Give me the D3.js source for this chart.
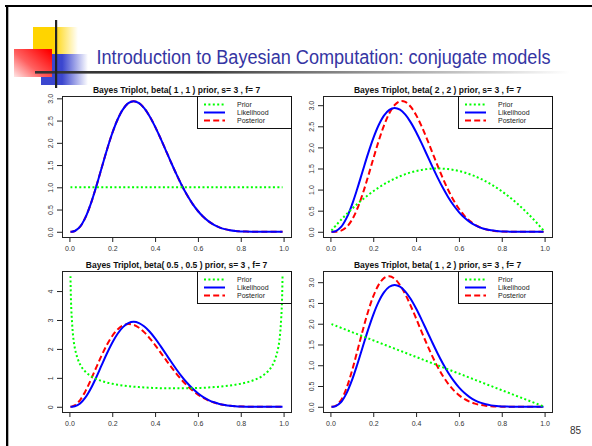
<!DOCTYPE html>
<html>
<head>
<meta charset="utf-8">
<script src="https://cdn.jsdelivr.net/npm/d3@7"></script>
<style>
  body { margin: 0; background: #fff; }
  svg { display: block; }
  text { font-family: "Liberation Sans", Arial, sans-serif; }
</style>
</head>
<body>
<script>
// grid of p values the densities were read at
const pGrid = [0.005, 0.01, 0.025, 0.05, 0.075, 0.1, 0.125, 0.15, 0.175, 0.2,
  0.225, 0.25, 0.275, 0.3, 0.325, 0.35, 0.375, 0.4, 0.425, 0.45, 0.475, 0.5,
  0.525, 0.55, 0.575, 0.6, 0.625, 0.65, 0.675, 0.7, 0.725, 0.75, 0.775, 0.8,
  0.825, 0.85, 0.875, 0.9, 0.925, 0.95, 0.975, 0.99, 0.995];

// likelihood, s = 3, f = 7 (same in every panel)
const likelihood = [0.0002, 0.0012, 0.0173, 0.1152, 0.3227, 0.6314, 1.0124, 1.4282,
  1.8403, 2.2146, 2.5249, 2.7531, 2.8908, 2.9351, 2.8932, 2.7744, 2.5932, 2.3649,
  2.1059, 1.8313, 1.5552, 1.2891, 1.0421, 0.8206, 0.6285, 0.4671, 0.3361, 0.2332,
  0.1555, 0.0990, 0.0598, 0.0340, 0.0179, 0.0087, 0.0037, 0.0014, 0.0004, 0.0001,
  0, 0, 0, 0, 0];

const prior11 = [1, 1, 1, 1, 1, 1, 1, 1, 1, 1, 1, 1, 1, 1, 1, 1, 1, 1, 1, 1, 1, 1,
  1, 1, 1, 1, 1, 1, 1, 1, 1, 1, 1, 1, 1, 1, 1, 1, 1, 1, 1, 1, 1];
const post11 = [0.0002, 0.0012, 0.0173, 0.1152, 0.3227, 0.6314, 1.0124, 1.4282,
  1.8403, 2.2146, 2.5249, 2.7531, 2.8908, 2.9351, 2.8932, 2.7744, 2.5932, 2.3649,
  2.1059, 1.8313, 1.5552, 1.2891, 1.0421, 0.8206, 0.6285, 0.4671, 0.3361, 0.2332,
  0.1555, 0.0990, 0.0598, 0.0340, 0.0179, 0.0087, 0.0037, 0.0014, 0.0004, 0.0001,
  0, 0, 0, 0, 0];

const prior22 = [0.0299, 0.0594, 0.1463, 0.285, 0.4163, 0.54, 0.6563, 0.765, 0.8663,
  0.96, 1.0463, 1.125, 1.1963, 1.26, 1.3163, 1.365, 1.4063, 1.44, 1.4663, 1.485,
  1.4963, 1.5, 1.4963, 1.485, 1.4663, 1.44, 1.4063, 1.365, 1.3163, 1.26, 1.1963,
  1.125, 1.0463, 0.96, 0.8663, 0.765, 0.6563, 0.54, 0.4163, 0.285, 0.1463, 0.0594,
  0.0299];
const post22 = [0, 0.0001, 0.0021, 0.0267, 0.1091, 0.2770, 0.5398, 0.8877, 1.2953,
  1.7274, 2.1463, 2.5165, 2.8097, 3.0048, 3.0941, 3.0770, 2.9629, 2.7669, 2.5088,
  2.2095, 1.8906, 1.5710, 1.2668, 0.9901, 0.7487, 0.5466, 0.3840, 0.2587, 0.1663,
  0.1014, 0.0582, 0.0311, 0.0152, 0.0067, 0.0026, 0.0009, 0.0002, 0, 0, 0, 0, 0, 0];

const prior55 = [4.5129, 3.1991, 2.0388, 1.4605, 1.2085, 1.0610, 0.9625, 0.8914,
  0.8377, 0.7958, 0.7623, 0.7351, 0.7129, 0.6946, 0.6796, 0.6674, 0.6575, 0.6497,
  0.6439, 0.6398, 0.6374, 0.6366, 0.6374, 0.6398, 0.6439, 0.6497, 0.6575, 0.6674,
  0.6796, 0.6946, 0.7129, 0.7351, 0.7623, 0.7958, 0.8377, 0.8914, 0.9625, 1.0610,
  1.2085, 1.4605, 2.0388, 3.1991, 4.5129];
const post55 = [0.0010, 0.0055, 0.0489, 0.2337, 0.5415, 0.9303, 1.3533, 1.7681,
  2.1411, 2.4475, 2.6729, 2.8106, 2.8619, 2.8314, 2.7307, 2.5713, 2.3679, 2.1340,
  1.8831, 1.6272, 1.3767, 1.1397, 0.9225, 0.7292, 0.5620, 0.4215, 0.3069, 0.2162,
  0.1467, 0.0955, 0.0592, 0.0347, 0.0190, 0.0096, 0.0043, 0.0017, 0.0006, 0.0001,
  0, 0, 0, 0, 0];

const prior12 = [1.99, 1.98, 1.95, 1.9, 1.85, 1.8, 1.75, 1.7, 1.65, 1.6, 1.55, 1.5,
  1.45, 1.4, 1.35, 1.3, 1.25, 1.2, 1.15, 1.1, 1.05, 1.0, 0.95, 0.9, 0.85, 0.8, 0.75,
  0.7, 0.65, 0.6, 0.55, 0.5, 0.45, 0.4, 0.35, 0.3, 0.25, 0.2, 0.15, 0.1, 0.05, 0.02,
  0.01];
const post12 = [0.0002, 0.0018, 0.0253, 0.1642, 0.4477, 0.8523, 1.3288, 1.8209,
  2.2774, 2.6575, 2.9352, 3.0972, 3.1437, 3.0819, 2.9294, 2.7050, 2.4311, 2.1284,
  1.8163, 1.5108, 1.2247, 0.9668, 0.7425, 0.5539, 0.4007, 0.2803, 0.1890, 0.1224,
  0.0758, 0.0446, 0.0247, 0.0127, 0.0061, 0.0026, 0.0010, 0.0003, 0.0001, 0, 0, 0,
  0, 0, 0];

const xTicks = [0, 0.2, 0.4, 0.6, 0.8, 1.0];
const yTicksHalf = [0, 0.5, 1, 1.5, 2, 2.5, 3];
const yTicksInt = [0, 1, 2, 3, 4];
const legendLabels = ["Prior", "Likelihood", "Posterior"];

const slideTitle = "Introduction to Bayesian Computation: conjugate models";
const slideNumber = "85";

const panels = [
  { title: "Bayes Triplot, beta( 1 , 1 ) prior, s= 3 , f= 7", prior: prior11, post: post11, yTicks: yTicksHalf, fmt: ".1f" },
  { title: "Bayes Triplot, beta( 2 , 2 ) prior, s= 3 , f= 7", prior: prior22, post: post22, yTicks: yTicksHalf, fmt: ".1f" },
  { title: "Bayes Triplot, beta( 0.5 , 0.5 ) prior, s= 3 , f= 7", prior: prior55, post: post55, yTicks: yTicksInt, fmt: "d" },
  { title: "Bayes Triplot, beta( 1 , 2 ) prior, s= 3 , f= 7", prior: prior12, post: post12, yTicks: yTicksHalf, fmt: ".1f" }
];

const width = 592, height = 446;

const svg = d3.select("body").append("svg")
  .attr("width", width)
  .attr("height", height);

const defs = svg.append("defs");

function gradient(id, x1, y1, x2, y2, stops) {
  const gr = defs.append("linearGradient").attr("id", id)
    .attr("x1", x1).attr("y1", y1).attr("x2", x2).attr("y2", y2);
  stops.forEach(s => gr.append("stop").attr("offset", s[0]).attr("stop-color", s[1]));
}
gradient("yellowG", 0, 0, 1, 0, [[0, "#ffd400"], [0.45, "#ffd400"], [1, "#ffffff"]]);
gradient("blueG", 0, 0, 1, 0, [[0, "#3b46cf"], [0.45, "#3b46cf"], [1, "#ffffff"]]);
gradient("redG", 1, 0.15, 0, 1, [[0, "#ff0000"], [0.55, "#ff6060"], [1, "#ffe6e6"]]);
gradient("ruleG", 0, 0, 1, 0, [[0, "#333333"], [0.3, "#3a3a3a"], [1, "#ffffff"]]);

// slide frame
svg.append("rect").attr("x", 5).attr("y", 5).attr("width", width - 5).attr("height", 2).attr("fill", "#000");
svg.append("rect").attr("x", 6).attr("y", 5).attr("width", 2.3).attr("height", height - 5).attr("fill", "#000");

// logo
svg.append("rect").attr("x", 33).attr("y", 27).attr("width", 45).attr("height", 28).attr("fill", "url(#yellowG)");
svg.append("rect").attr("x", 41).attr("y", 54).attr("width", 47).attr("height", 31).attr("fill", "url(#blueG)");
svg.append("rect").attr("x", 14).attr("y", 49).attr("width", 38).attr("height", 28).attr("fill", "url(#redG)");
svg.append("rect").attr("x", 35).attr("y", 71).attr("width", 535).attr("height", 2.6).attr("fill", "url(#ruleG)");
svg.append("rect").attr("x", 55).attr("y", 20).attr("width", 2.2).attr("height", 68).attr("fill", "#222");

svg.append("text")
  .attr("x", 96.5).attr("y", 64)
  .attr("textLength", 454).attr("lengthAdjust", "spacingAndGlyphs")
  .style("font-family", "'Liberation Sans Narrow', 'Liberation Sans', Arial, sans-serif")
  .style("font-size", "19.5px")
  .attr("fill", "#3535a3")
  .text(slideTitle);

svg.append("text")
  .attr("x", 570).attr("y", 434)
  .style("font-size", "10px")
  .attr("fill", "#333")
  .text(slideNumber);

// panels
const boxW = 229, boxH = 141;
const colX = [62, 323], rowY = [96, 271];

const series = [
  { key: "post", color: "#ff0000", dash: "6,3.2" },
  { key: "like", color: "#0000ff", dash: null },
  { key: "prior", color: "#00ff00", dash: "2,2.4" }
];

panels.forEach((pan, i) => {
  const x0 = colX[i % 2], y0 = rowY[Math.floor(i / 2)];
  const g = svg.append("g").attr("transform", `translate(${x0},${y0})`);

  const values = { prior: pan.prior, like: likelihood, post: pan.post };
  const m = d3.max([].concat(pan.prior, likelihood, pan.post));
  const pMin = pGrid[0], pMax = pGrid[pGrid.length - 1];
  const xPad = 0.04 * (pMax - pMin);

  const x = d3.scaleLinear().domain([pMin - xPad, pMax + xPad]).range([0, boxW]);
  const y = d3.scaleLinear().domain([-0.04 * m, 1.04 * m]).range([boxH, 0]);

  // x axis
  const xa = g.append("g")
    .attr("transform", `translate(0,${boxH})`)
    .call(d3.axisBottom(x).tickValues(xTicks).tickSize(5).tickSizeOuter(0)
      .tickPadding(4).tickFormat(d3.format(".1f")));
  xa.select(".domain").remove();

  // y axis
  const ya = g.append("g")
    .call(d3.axisLeft(y).tickValues(pan.yTicks).tickSize(5).tickSizeOuter(0)
      .tickFormat(d3.format(pan.fmt)));
  ya.select(".domain").remove();
  ya.selectAll("text")
    .attr("x", null).attr("dy", null)
    .attr("text-anchor", "middle")
    .attr("transform", "translate(-9.5,0) rotate(-90)");

  g.selectAll(".tick line").attr("stroke", "#222");
  g.selectAll(".tick text").style("font-size", "7px").attr("fill", "#333")
    .style("font-family", "'Liberation Sans', Arial, sans-serif");

  // curves
  const line = d3.line()
    .x((d, j) => x(pGrid[j]))
    .y(d => y(d))
    .curve(d3.curveCatmullRom.alpha(0.5));

  series.forEach(s => {
    g.append("path")
      .datum(values[s.key])
      .attr("d", line)
      .attr("fill", "none")
      .attr("stroke", s.color)
      .attr("stroke-width", 2)
      .attr("stroke-dasharray", s.dash);
  });

  // box
  g.append("rect")
    .attr("x", 0.5).attr("y", 0.5)
    .attr("width", boxW).attr("height", boxH)
    .attr("fill", "none").attr("stroke", "#222").attr("stroke-width", 1);

  // title
  g.append("text")
    .attr("x", boxW / 2).attr("y", -3.5)
    .attr("text-anchor", "middle")
    .style("font-size", "8.5px")
    .style("font-weight", "bold")
    .attr("fill", "#111")
    .text(pan.title);

  // legend (transparent, curves show through)
  const lg = g.append("g").attr("transform", `translate(${boxW - 94},0)`);
  lg.append("rect")
    .attr("x", 0.5).attr("y", 0.5)
    .attr("width", 94).attr("height", 32)
    .attr("fill", "none").attr("stroke", "#111");
  const order = ["prior", "like", "post"];
  order.forEach((k, r) => {
    const s = series.find(d => d.key === k);
    const ry = 8.5 + r * 8;
    lg.append("line")
      .attr("x1", 7).attr("x2", 28)
      .attr("y1", ry).attr("y2", ry)
      .attr("stroke", s.color).attr("stroke-width", 2)
      .attr("stroke-dasharray", s.dash);
    lg.append("text")
      .attr("x", 40).attr("y", ry).attr("dy", "0.35em")
      .style("font-size", "7px")
      .attr("fill", "#222")
      .text(legendLabels[r]);
  });
});
</script>
</body>
</html>
